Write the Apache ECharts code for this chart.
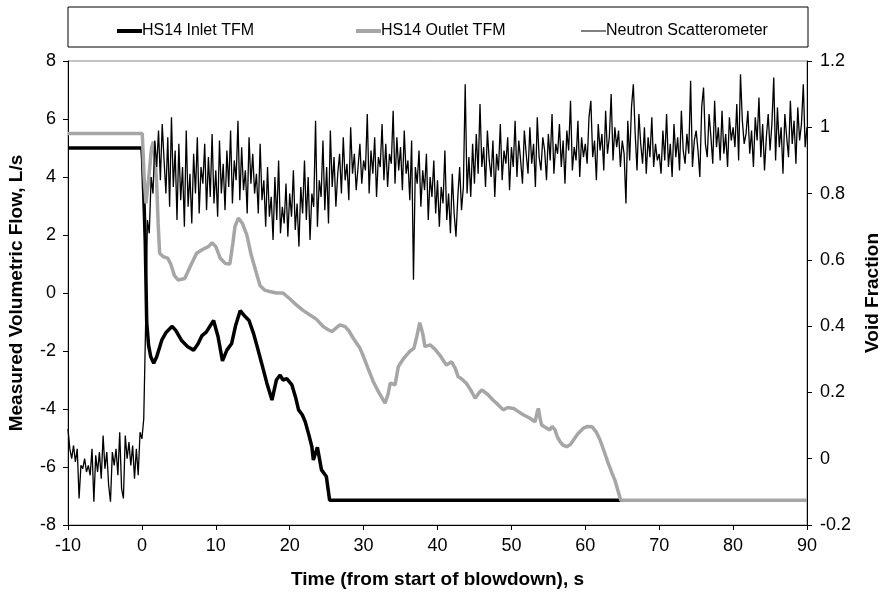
<!DOCTYPE html>
<html>
<head>
<meta charset="utf-8">
<title>HS14 blowdown</title>
<script src="https://cdn.jsdelivr.net/npm/echarts@6/dist/echarts.min.js"></script>
<style>
  html, body { margin: 0; padding: 0; background: #fff; }
  #chart { width: 882px; height: 595px; }
</style>
</head>
<body>
<div id="chart"></div>
<script>
// HS14 inlet turbine flow meter, L/s
var inletT = [-10, 0, 0.1, 0.3, 0.45, 0.65, 0.9, 1.2, 1.6, 2.0, 2.7, 3.3, 4.1, 4.6, 5.4, 6.2, 7.0, 7.6, 8.1, 8.7, 9.7, 10.3, 10.9, 11.5, 12.15, 12.7, 13.3, 14.0, 14.5, 15.1, 15.6, 16.2, 16.9, 17.6, 18.2, 18.7, 19.1, 19.6, 20.3, 20.8, 21.2, 21.7, 22.1, 22.6, 23.0, 23.2, 23.75, 24.3, 24.96, 25.4, 64.8];
var inletQ = [5.0, 5.0, 4.6, 3.0, 1.8, -1.0, -1.8, -2.2, -2.42, -2.2, -1.62, -1.35, -1.15, -1.3, -1.65, -1.85, -1.97, -1.75, -1.48, -1.35, -0.95, -1.5, -2.34, -1.97, -1.74, -1.1, -0.61, -0.82, -0.95, -1.39, -1.85, -2.42, -3.1, -3.69, -3.0, -2.83, -3.0, -2.95, -3.17, -3.6, -4.03, -4.2, -4.44, -4.9, -5.3, -5.76, -5.32, -6.1, -6.33, -7.15, -7.15];

// HS14 outlet turbine flow meter, L/s
var outletT = [-10, 0.05, 0.3, 0.55, 0.9, 1.3, 1.55, 1.8, 2.0, 2.2, 2.4, 2.9, 3.5, 3.9, 4.4, 4.9, 5.8, 6.6, 7.4, 8.2, 9.0, 9.5, 10.0, 10.6, 11.3, 11.9, 12.3, 12.6, 13.05, 13.6, 14.2, 14.8, 15.5, 16.0, 16.6, 17.3, 18.2, 19.1, 20.0, 20.9, 21.8, 22.75, 23.6, 24.55, 25.1, 25.7, 26.3, 26.8, 27.5, 28.0, 28.6, 29.5, 30.0, 30.6, 31.3, 32.0, 32.9, 33.3, 33.6, 34.25, 34.7, 35.3, 35.8, 36.3, 36.8, 37.2, 37.6, 38.0, 38.3, 39.0, 39.7, 40.3, 41.2, 41.9, 42.4, 42.8, 43.2, 43.9, 44.5, 45.1, 45.6, 46.0, 46.8, 47.5, 48.2, 48.9, 49.5, 50.3, 51.0, 51.6, 52.4, 53.2, 53.5, 53.65, 53.9, 54.1, 54.7, 55.2, 55.5, 55.9, 56.2, 56.6, 57.0, 57.5, 58.0, 58.4, 59.0, 59.7, 60.3, 60.9, 61.5, 62.0, 62.6, 63.1, 63.6, 64.0, 64.4, 64.8, 90];
var outletQ = [5.5, 5.5, 4.0, 3.09, 3.9, 5.0, 5.22, 4.6, 3.78, 2.4, 1.37, 1.25, 1.2, 1.0, 0.6, 0.45, 0.5, 0.95, 1.37, 1.5, 1.6, 1.73, 1.6, 1.2, 1.02, 1.0, 1.7, 2.3, 2.58, 2.4, 2.0, 1.3, 0.68, 0.25, 0.1, 0.05, 0.0, 0.0, -0.2, -0.41, -0.6, -0.76, -0.9, -1.16, -1.25, -1.33, -1.2, -1.1, -1.16, -1.3, -1.56, -1.9, -2.2, -2.6, -3.05, -3.4, -3.8, -3.5, -3.11, -3.17, -2.54, -2.3, -2.14, -2.0, -1.91, -1.5, -1.02, -1.4, -1.85, -1.79, -1.95, -2.14, -2.48, -2.37, -2.6, -2.89, -2.95, -3.11, -3.35, -3.63, -3.45, -3.34, -3.5, -3.69, -3.85, -4.03, -3.95, -3.98, -4.1, -4.2, -4.3, -4.44, -4.1, -3.98, -4.35, -4.55, -4.65, -4.72, -4.6, -4.72, -4.95, -5.13, -5.25, -5.3, -5.22, -5.07, -4.85, -4.67, -4.6, -4.61, -4.8, -5.07, -5.5, -5.87, -6.2, -6.45, -6.8, -7.15, -7.15];

// neutron scatterometer void fraction, sampled every 0.25 s from -10 s
var voidStart = -10;
var voidStep = 0.25;
var voidFrac = [
  0.09, 0.03, 0.00, 0.04, -0.01, 0.03, -0.12, -0.02, -0.03, 0.00, -0.04, -0.02, -0.05, 0.03, -0.13, 0.01, -0.04, 0.02, -0.06, 0.07,
  -0.03, 0.02, -0.08, -0.13, 0.02, -0.02, 0.03, -0.05, 0.08, -0.09, -0.12, 0.07, 0.00, 0.05, -0.02, 0.04, -0.06, 0.03, -0.05, 0.08,
  0.06, 0.12, 0.40, 0.72, 0.68, 0.85, 0.80, 0.96, 0.88, 0.99, 0.84, 1.01, 0.90, 0.80, 0.97, 0.76, 1.03, 0.82, 0.93, 0.72,
  0.95, 0.78, 0.88, 0.70, 0.99, 0.76, 0.86, 0.71, 0.92, 0.80, 0.97, 0.74, 0.88, 0.83, 0.95, 0.75, 0.91, 0.79, 0.98, 0.77,
  0.87, 0.73, 0.96, 0.80, 0.89, 0.75, 0.93, 0.82, 0.99, 0.77, 0.90, 0.84, 1.02, 0.78, 0.94, 0.81, 0.87, 0.74, 0.97, 0.83,
  0.92, 0.80, 0.86, 0.74, 0.95, 0.78, 0.84, 0.70, 0.88, 0.73, 0.79, 0.66, 0.85, 0.72, 0.90, 0.68, 0.76, 0.71, 0.83, 0.67,
  0.80, 0.73, 0.87, 0.69, 0.77, 0.64, 0.82, 0.74, 0.90, 0.72, 0.85, 0.66, 0.80, 0.76, 1.02, 0.70, 0.84, 0.79, 0.96, 0.75,
  0.88, 0.71, 0.99, 0.82, 0.91, 0.76, 0.86, 0.92, 0.80, 0.97, 0.84, 0.89, 0.78, 1.00, 0.86, 0.92, 0.81, 0.88, 0.95, 0.83,
  0.90, 0.87, 1.04, 0.80, 0.93, 0.86, 0.97, 0.79, 0.91, 0.88, 1.01, 0.84, 0.95, 0.82, 0.92, 0.89, 1.05, 0.83, 0.97, 0.87,
  0.94, 0.81, 0.99, 0.86, 0.90, 0.78, 0.96, 0.54, 0.88, 0.83, 0.93, 0.76, 0.87, 0.81, 0.92, 0.72, 0.85, 0.79, 0.90, 0.74,
  0.84, 0.70, 0.82, 0.77, 0.93, 0.72, 0.80, 0.68, 0.86, 0.74, 0.67, 0.79, 0.88, 0.75, 0.82, 1.13, 0.80, 0.91, 0.79, 0.95,
  0.83, 0.98, 0.86, 1.07, 0.88, 0.94, 0.82, 0.99, 0.90, 0.85, 0.96, 0.79, 0.92, 0.87, 1.01, 0.84, 0.93, 0.89, 0.97, 0.81,
  0.94, 0.88, 1.02, 0.85, 0.96, 0.90, 0.83, 0.99, 0.92, 0.86, 1.00, 0.89, 0.95, 0.82, 1.03, 0.91, 0.87, 0.97, 0.93, 0.84,
  0.98, 0.90, 1.04, 0.86, 0.95, 0.92, 1.01, 0.88, 0.96, 0.83, 0.99, 0.93, 1.08, 0.87, 0.94, 0.90, 1.02, 0.85, 0.97, 0.91,
  0.95, 0.89, 1.03, 1.08, 0.91, 0.96, 0.84, 1.01, 0.93, 0.98, 0.87, 1.05, 0.92, 0.97, 1.10, 0.90, 1.00, 0.94, 0.99, 0.88,
  0.96, 0.92, 0.77, 1.02, 0.90, 1.06, 1.13, 0.98, 0.87, 1.04, 0.95, 0.89, 1.00, 0.86, 0.97, 0.91, 1.03, 0.88, 0.95, 0.90,
  0.92, 0.86, 0.99, 0.90, 1.04, 0.88, 0.95, 0.85, 1.01, 0.91, 0.97, 0.87, 1.05, 0.93, 0.89, 0.98, 0.92, 1.14, 0.88, 0.96,
  0.99, 0.93, 0.85, 1.06, 1.12, 0.95, 0.91, 1.04, 0.97, 0.89, 1.08, 0.94, 1.00, 0.90, 1.05, 0.92, 0.98, 0.88, 1.03, 0.96,
  1.00, 0.94, 1.07, 0.90, 1.16, 1.02, 0.95, 0.98, 1.05, 0.92, 0.99, 0.88, 1.03, 0.96, 1.09, 0.91, 1.01, 0.87, 0.97, 1.04,
  0.93, 1.01, 1.15, 0.90, 1.06, 0.94, 1.00, 0.86, 1.04, 0.97, 0.91, 1.08, 0.95, 1.02, 0.89, 1.06, 0.96, 1.01, 1.13, 0.94,
  1.00
];

var seriesNames = ['HS14 Inlet TFM', 'HS14 Outlet TFM', 'Neutron Scatterometer'];

function pairs(xs, ys) {
    var out = [];
    for (var i = 0; i < xs.length; i++) out.push([xs[i], ys[i]]);
    return out;
}

var voidData = voidFrac.map(function(v, i) {
    return [voidStart + i * voidStep, v];
});

var font = 'Liberation Sans, Arial, sans-serif';
var myChart = echarts.init(document.getElementById('chart'));

function legendAt(name, left, h) {
    return {
        data: [name],
        left: left,
        top: 18,
        icon: 'rect',
        itemWidth: 25,
        itemHeight: h,
        itemGap: 0,
        selectedMode: false,
        textStyle: { fontFamily: font, fontSize: 16, color: '#000', padding: [0, 0, 0, -5] }
    };
}

var titleStyle = { fontFamily: font, fontSize: 19, fontWeight: 'bold', color: '#000' };
var tickStyle = { fontFamily: font, fontSize: 18, color: '#000' };

var option = {
    animation: false,
    backgroundColor: '#fff',
    textStyle: { fontFamily: font },
    graphic: [{
        type: 'rect',
        shape: { x: 68, y: 7, width: 740, height: 40 },
        style: { fill: 'none', stroke: '#000', lineWidth: 1 },
        silent: true
    }],
    legend: [
        legendAt(seriesNames[0], 112, 4),
        legendAt(seriesNames[1], 351, 4),
        legendAt(seriesNames[2], 576, 1)
    ],
    grid: {
        left: 68, right: 75, top: 61, bottom: 70,
        outerBoundsMode: 'none',
        containLabel: false,
        show: true, borderColor: '#888', borderWidth: 1
    },
    xAxis: {
        type: 'value',
        min: -10, max: 90, interval: 10,
        name: 'Time (from start of blowdown), s',
        nameLocation: 'middle',
        nameGap: 45,
        nameTextStyle: titleStyle,
        axisLine: { onZero: false, lineStyle: { color: '#000', width: 1 } },
        axisTick: { inside: false, length: 5, lineStyle: { color: '#000' } },
        axisLabel: Object.assign({ margin: 12 }, tickStyle),
        splitLine: { show: false }
    },
    yAxis: [{
        type: 'value',
        min: -8, max: 8, interval: 2,
        name: 'Measured Volumetric Flow, L/s',
        nameLocation: 'middle',
        nameGap: 42,
        nameTextStyle: titleStyle,
        axisLine: { show: true, onZero: false, lineStyle: { color: '#000', width: 1 } },
        axisTick: { show: true, length: 5, lineStyle: { color: '#000' } },
        axisLabel: Object.assign({ margin: 12 }, tickStyle),
        splitLine: { show: false }
    }, {
        type: 'value',
        position: 'right',
        min: -0.2, max: 1.2, interval: 0.2,
        name: 'Void Fraction',
        nameLocation: 'middle',
        nameGap: 56,
        nameRotate: 90,
        nameTextStyle: titleStyle,
        axisLine: { show: true, onZero: false, lineStyle: { color: '#000', width: 1 } },
        axisTick: { show: true, length: 5, lineStyle: { color: '#000' } },
        axisLabel: Object.assign({
            margin: 13,
            formatter: function(v) { return String(+v.toFixed(1)); }
        }, tickStyle),
        splitLine: { show: false }
    }],
    series: [{
        name: seriesNames[0],
        type: 'line',
        yAxisIndex: 0,
        data: pairs(inletT, inletQ),
        color: '#000',
        showSymbol: false,
        symbol: 'none',
        lineStyle: { color: '#000', width: 3.5 }
    }, {
        name: seriesNames[1],
        type: 'line',
        yAxisIndex: 0,
        data: pairs(outletT, outletQ),
        color: '#a6a6a6',
        showSymbol: false,
        symbol: 'none',
        lineStyle: { color: '#a6a6a6', width: 3.5 }
    }, {
        name: seriesNames[2],
        type: 'line',
        yAxisIndex: 1,
        data: voidData,
        color: '#000',
        showSymbol: false,
        symbol: 'none',
        sampling: null,
        lineStyle: { color: '#000', width: 1.3 }
    }]
};

myChart.setOption(option);
</script>
</body>
</html>
